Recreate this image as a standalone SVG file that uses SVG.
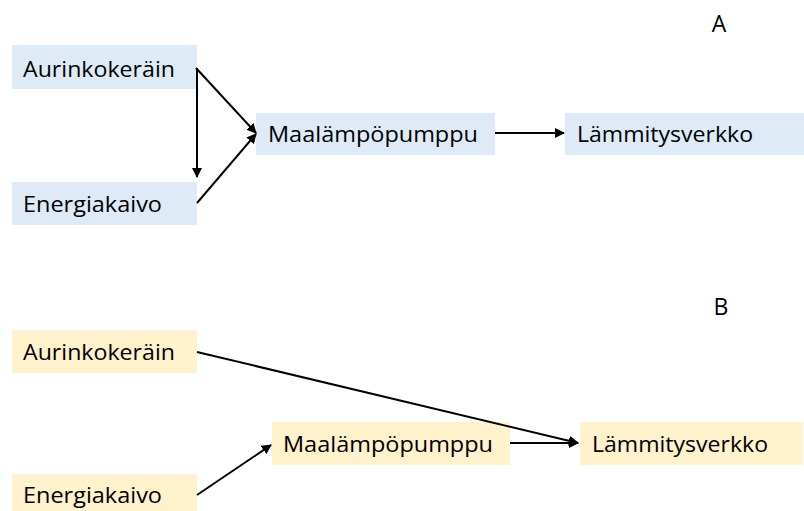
<svg xmlns="http://www.w3.org/2000/svg" width="804" height="511" viewBox="0 0 804 511">
<style>
.blue{fill:#DEEBF7}
.yel{fill:#FFF2CC}
text{font-family:"Open Sans","Noto Sans",sans-serif;font-size:22px;fill:#000}
.lbl{font-size:23px}
.c{stroke:#000;stroke-width:2;fill:none;marker-end:url(#ah)}
</style>
<defs>
<marker id="ah" viewBox="0 0 10 10" refX="9" refY="5" markerWidth="5" markerHeight="5" orient="auto" markerUnits="strokeWidth">
<path d="M0,0 L10,5 L0,10 z" fill="#000"/>
</marker>
</defs>
<rect width="804" height="511" fill="#fff"/>
<text class="lbl" x="719" y="32" text-anchor="middle">A</text>
<text class="lbl" x="721" y="315" text-anchor="middle">B</text>
<g id="a-aurinko"><rect class="blue" x="12" y="45" width="185" height="44"/><text x="23" y="77" textLength="152" lengthAdjust="spacingAndGlyphs">Aurinkokeräin</text></g>
<g id="a-energia"><rect class="blue" x="12" y="182" width="185" height="43"/><text x="23" y="212" textLength="139" lengthAdjust="spacingAndGlyphs">Energiakaivo</text></g>
<g id="a-maalampo"><rect class="blue" x="256" y="113" width="239" height="42"/><text x="268" y="142" textLength="210" lengthAdjust="spacingAndGlyphs">Maalämpöpumppu</text></g>
<g id="a-lammitys"><rect class="blue" x="565" y="113" width="239" height="42"/><text x="577" y="142" textLength="176" lengthAdjust="spacingAndGlyphs">Lämmitysverkko</text></g>
<g id="b-aurinko"><rect class="yel" x="12" y="330" width="185" height="43"/><text x="23" y="360" textLength="152" lengthAdjust="spacingAndGlyphs">Aurinkokeräin</text></g>
<g id="b-energia"><rect class="yel" x="12" y="474" width="185" height="37"/><text x="23" y="503" textLength="139" lengthAdjust="spacingAndGlyphs">Energiakaivo</text></g>
<g id="b-maalampo"><rect class="yel" x="272" y="422" width="238" height="43"/><text x="283" y="452" textLength="210" lengthAdjust="spacingAndGlyphs">Maalämpöpumppu</text></g>
<g id="b-lammitys"><rect class="yel" x="580" y="422" width="223" height="43"/><text x="592" y="452" textLength="176" lengthAdjust="spacingAndGlyphs">Lämmitysverkko</text></g>
<g id="connectors">
<line class="c" x1="196" y1="68" x2="256" y2="133"/>
<line class="c" x1="197" y1="68" x2="197" y2="177"/>
<line class="c" x1="197" y1="203" x2="256" y2="134"/>
<line class="c" x1="495" y1="133" x2="564" y2="133"/>
<line class="c" x1="197" y1="352" x2="578" y2="443"/>
<line class="c" x1="510" y1="443" x2="578" y2="443"/>
<line class="c" x1="197" y1="495" x2="271" y2="445"/>
</g>
</svg>
